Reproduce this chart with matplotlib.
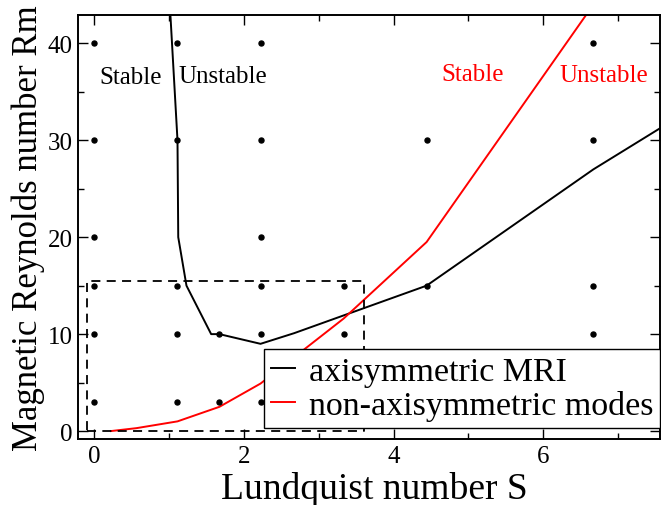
import matplotlib
matplotlib.use("Agg")
import numpy as np
from matplotlib import pyplot as plt
from matplotlib.ticker import MultipleLocator

plt.rcParams['font.family'] = ['Liberation Serif', 'DejaVu Serif']

# grid of computed cases (S, Rm)
dot_s = [0, 1.11, 2.22, 6.67,
         0, 1.11, 2.22, 4.44, 6.67,
         0, 2.22,
         0, 1.11, 2.22, 3.33, 4.44, 6.67,
         0, 1.11, 1.67, 2.22, 3.33, 6.67,
         0, 1.11, 1.67, 2.22, 3.33, 4.44, 6.67]
dot_rm = [40, 40, 40, 40,
          30, 30, 30, 30, 30,
          20, 20,
          15, 15, 15, 15, 15, 15,
          10, 10, 10, 10, 10, 10,
          3, 3, 3, 3, 3, 3, 3]

# stability boundary, axisymmetric MRI
axi_s = [1.0, 1.11, 1.12, 1.23, 1.56, 1.67, 2.22, 2.67, 4.44, 6.67, 7.7]
axi_rm = [45, 30, 20, 15, 10, 10, 9.0, 10.1, 15, 27, 31.9]

# stability boundary, non-axisymmetric modes
non_s = [0.22, 0.56, 1.11, 1.67, 2.22, 3.33, 4.44, 6.67]
non_rm = [0.0, 0.3, 1.0, 2.5, 4.9, 11.6, 19.5, 44.0]

# zoom box corners
box_s = [-0.1, 3.6, 3.6, -0.1, -0.1]
box_rm = [0.0, 0.0, 15.5, 15.5, 0.0]

fig = plt.figure(figsize=(6.61, 5.06), dpi=100)
ax = fig.add_axes([0.118, 0.1304, 0.8805, 0.8376])

ax.plot(dot_s, dot_rm, 'o', color='black', markersize=3.6, zorder=3)
ax.plot(axi_s, axi_rm, color='black', lw=1.4, label='axisymmetric MRI')
ax.plot(non_s, non_rm, color='red', lw=1.4, label='non-axisymmetric modes')
ax.plot(box_s, box_rm, color='black', lw=1.3, ls=(0, (5, 3.5)))

ax.text(0.48, 36.5, 'Stable', fontsize=18, ha='center', va='center')
ax.text(1.71, 36.6, 'Unstable', fontsize=18, ha='center', va='center')
ax.text(5.05, 36.8, 'Stable', fontsize=18, ha='center', va='center', color='red')
ax.text(6.81, 36.7, 'Unstable', fontsize=18, ha='center', va='center', color='red')

ax.set_xlim(-0.22, 7.56)
ax.set_ylim(-0.82, 42.9)
ax.xaxis.set_major_locator(MultipleLocator(2))
ax.xaxis.set_minor_locator(MultipleLocator(1))
ax.yaxis.set_major_locator(MultipleLocator(10))
ax.yaxis.set_minor_locator(MultipleLocator(5))
ax.tick_params(which='both', direction='in', top=True, right=True, labelsize=18, width=1.0, pad=4)
ax.tick_params(which='major', length=7.5)
ax.tick_params(which='minor', length=4.5)
for sp in ax.spines.values():
    sp.set_linewidth(1.4)

ax.set_xlabel('Lundquist number S', fontsize=27, labelpad=0)
ax.set_ylabel('Magnetic Reynolds number Rm', fontsize=25, labelpad=2)
ax.xaxis.set_label_coords(0.51, -0.075)

leg = ax.legend(loc='lower right', bbox_to_anchor=(1.0, 0.026), borderaxespad=0,
                fontsize=24.5, frameon=True, fancybox=False, edgecolor='black',
                framealpha=1, handlelength=0.7, handletextpad=0.4,
                borderpad=0.2, labelspacing=0.1)
leg.get_frame().set_linewidth(1.0)

fig.savefig('out.png', dpi=100)
